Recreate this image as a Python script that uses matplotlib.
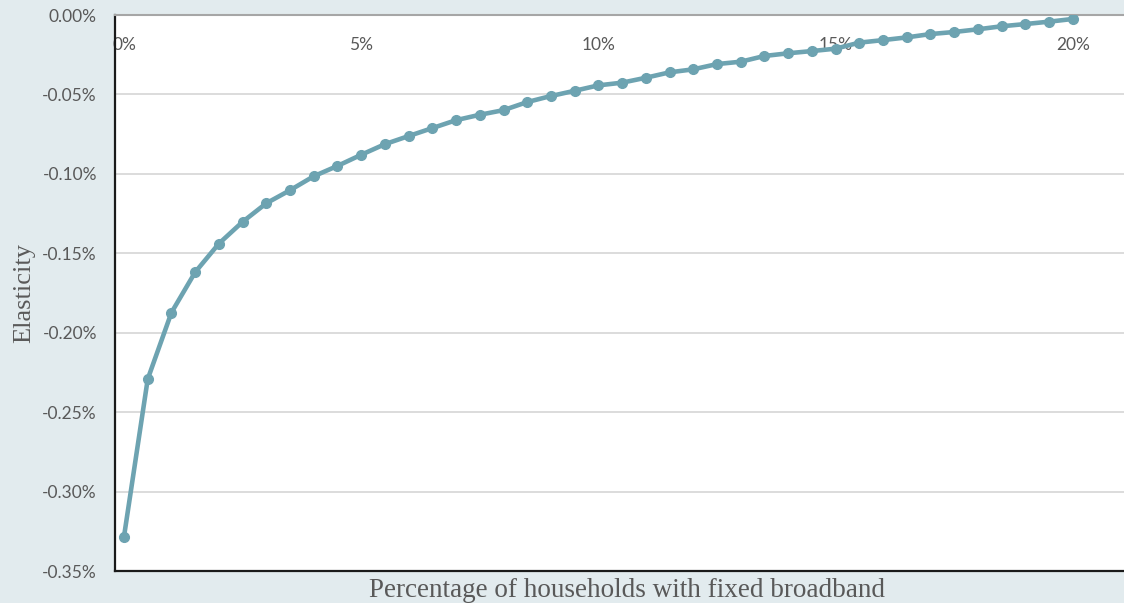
import matplotlib
matplotlib.use("Agg")
import matplotlib.pyplot as plt
from matplotlib.ticker import FuncFormatter, MultipleLocator

# Share of households with fixed broadband (%)
broadband_share = [0.0, 0.5, 1.0, 1.5, 2.0, 2.5, 3.0, 3.5, 4.0, 4.5,
                   5.0, 5.5, 6.0, 6.5, 7.0, 7.5, 8.0, 8.5, 9.0, 9.5,
                   10.0, 10.5, 11.0, 11.5, 12.0, 12.5, 13.0, 13.5, 14.0, 14.5,
                   15.0, 15.5, 16.0, 16.5, 17.0, 17.5, 18.0, 18.5, 19.0, 19.5,
                   20.0]

# Elasticity (%)
elasticity = [-0.3283, -0.2292, -0.1873, -0.1619, -0.1439, -0.1302, -0.1185, -0.1103, -0.1015, -0.0950,
              -0.0880, -0.0813, -0.0762, -0.0712, -0.0662, -0.0628, -0.0599, -0.0548, -0.0510, -0.0477,
              -0.0443, -0.0426, -0.0395, -0.0361, -0.0342, -0.0309, -0.0294, -0.0258, -0.0241, -0.0227,
              -0.0212, -0.0174, -0.0158, -0.0141, -0.0120, -0.0107, -0.0090, -0.0071, -0.0057, -0.0042,
              -0.0025]

x_ticks = [0, 5, 10, 15, 20]
x_tick_labels = ["0%", "5%", "10%", "15%", "20%"]

x_label = "Percentage of households with fixed broadband"
y_label = "Elasticity"

BG = "#e2ebee"
LINE = "#6da3b1"
TEXT = "#595959"

fig = plt.figure(figsize=(11.24, 6.03), dpi=100, facecolor=BG)
ax = fig.add_axes([115 / 1124, 1 - 571 / 603, 1 - 115 / 1124, (571 - 15) / 603])
ax.set_facecolor("white")

ax.plot(broadband_share, elasticity, color=LINE, lw=3.3, marker="o",
        markersize=7, markerfacecolor=LINE, markeredgecolor=LINE,
        solid_capstyle="round", zorder=3)

ax.set_xlim(-0.19, 21.08)
ax.set_ylim(-0.35, 0.0)

# y axis: percent labels every 0.05
ax.yaxis.set_major_locator(MultipleLocator(0.05))
ax.yaxis.set_major_formatter(FuncFormatter(lambda v, _: f"{v:.2f}%"))
ax.grid(axis="y", color="#d9d9d9", lw=1.3, zorder=0)
ax.tick_params(axis="y", length=0, pad=13, labelsize=12.5, labelcolor=TEXT)

# x axis: labels sit along the top, inside the plot area
ax.set_xticks(x_ticks)
ax.set_xticklabels(x_tick_labels)
ax.xaxis.set_ticks_position("top")
ax.tick_params(axis="x", length=0, pad=-27, labelsize=12.5, labelcolor=TEXT)

for lab in ax.get_yticklabels() + ax.get_xticklabels():
    lab.set_family(["Lato", "DejaVu Sans"])

ax.spines["right"].set_visible(False)
ax.spines["top"].set_color("#a6a6a6")
ax.spines["top"].set_linewidth(1.5)
ax.spines["left"].set_color("#1a1a1a")
ax.spines["left"].set_linewidth(1.6)
ax.spines["bottom"].set_color("#1a1a1a")
ax.spines["bottom"].set_linewidth(1.6)

ax.set_xlabel(x_label, fontsize=19.5, color=TEXT, family="Liberation Serif")
ax.xaxis.set_label_position("bottom")
ax.xaxis.set_label_coords(0.507, -0.012)
ax.set_ylabel(y_label, fontsize=19, color=TEXT, family="Liberation Serif")
ax.yaxis.set_label_coords(-0.079, 0.5)

fig.savefig("out.png", dpi=100, facecolor=BG)
